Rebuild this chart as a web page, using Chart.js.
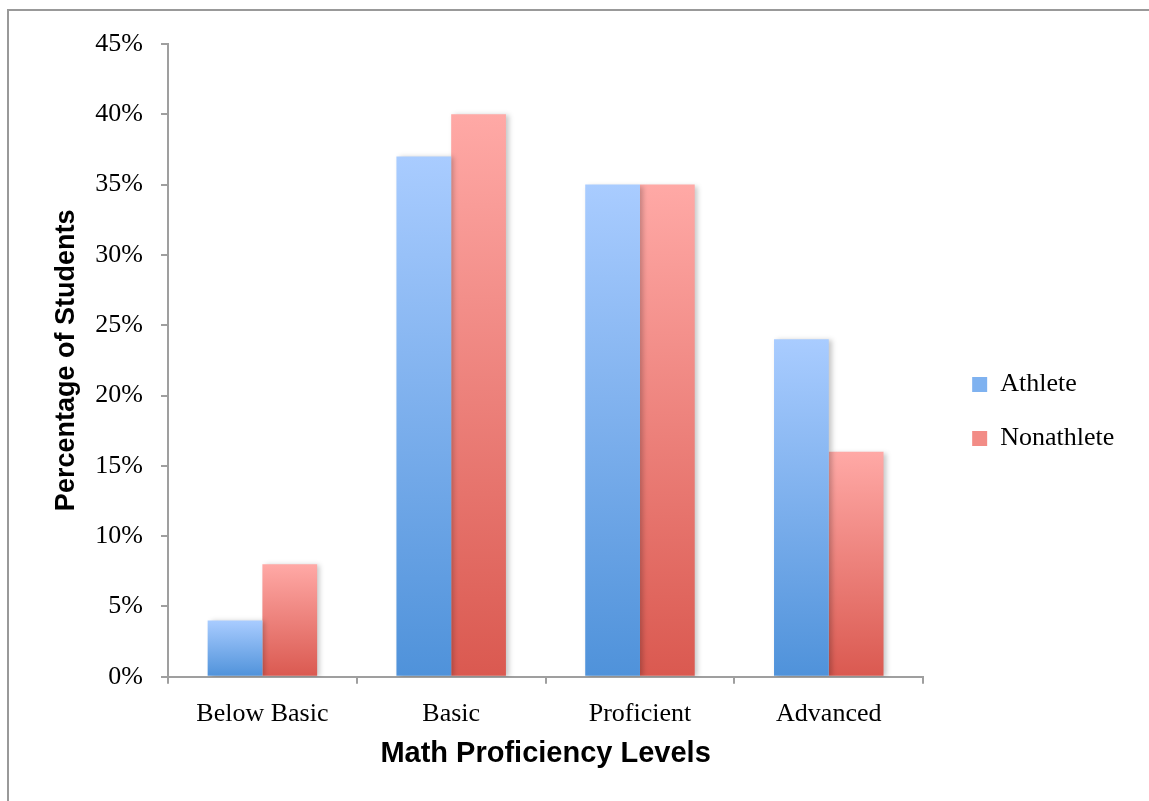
<!DOCTYPE html>
<html>
<head>
<meta charset="utf-8">
<script src="https://cdn.jsdelivr.net/npm/chart.js@4/dist/chart.umd.min.js"></script>
<style>
  html, body { margin: 0; padding: 0; background: #fff; }
  #wrap { position: relative; width: 1149px; height: 801px; overflow: hidden; }
  #frame {
    position: absolute; left: 7px; top: 9px; width: 1200px; height: 900px;
    border-left: 2px solid #999; border-top: 2px solid #999;
  }
  #box { position: absolute; left: 0; top: 0; width: 1149px; height: 801px; }
</style>
</head>
<body>
<div id="wrap">
  <div id="frame"></div>
  <div id="box"><canvas id="chart"></canvas></div>
</div>
<script>
const levels = ['Below Basic', 'Basic', 'Proficient', 'Advanced'];
const athlete = [4, 37, 35, 24];
const nonathlete = [8, 40, 35, 16];

const blueTop = '#a9ccff';
const blueBottom = '#4f92da';
const redTop = '#ffa9a6';
const redBottom = '#da5950';

function barGradient(top, bottom) {
  return (context) => {
    const chart = context.chart;
    const y = chart.scales.y;
    if (!chart.chartArea || !y || context.raw === undefined) return bottom;
    const yTop = y.getPixelForValue(context.raw);
    const yBottom = y.getPixelForValue(0);
    if (!isFinite(yTop) || !isFinite(yBottom) || yTop === yBottom) return bottom;
    const g = chart.ctx.createLinearGradient(0, yTop, 0, yBottom);
    g.addColorStop(0, top);
    g.addColorStop(1, bottom);
    return g;
  };
}

// soft drop shadow behind the bars
const barShadow = {
  id: 'barShadow',
  beforeDatasetsDraw(chart) {
    const ctx = chart.ctx;
    ctx.save();
    ctx.shadowColor = 'rgba(0,0,0,0.22)';
    ctx.shadowBlur = 5;
    ctx.shadowOffsetX = 3;
    ctx.shadowOffsetY = 1;
  },
  afterDatasetsDraw(chart) {
    chart.ctx.restore();
  },
};

const serif = "'Liberation Serif', 'Times New Roman', serif";
const sans = "'Liberation Sans', Arial, sans-serif";

new Chart(document.getElementById('chart'), {
  type: 'bar',
  data: {
    labels: levels,
    datasets: [
      {
        label: 'Athlete',
        data: athlete,
        backgroundColor: barGradient(blueTop, blueBottom),
        categoryPercentage: 0.58,
        barPercentage: 1.0,
      },
      {
        label: 'Nonathlete',
        data: nonathlete,
        backgroundColor: barGradient(redTop, redBottom),
        categoryPercentage: 0.58,
        barPercentage: 1.0,
      },
    ],
  },
  options: {
    responsive: true,
    maintainAspectRatio: false,
    animation: false,
    layout: {
      padding: { left: 50, top: 44, right: 26, bottom: 22 },
    },
    plugins: {
      tooltip: { enabled: false },
      legend: {
        position: 'right',
        labels: {
          color: '#000',
          font: { family: serif, size: 26 },
          boxWidth: 15,
          boxHeight: 15,
          padding: 28,
          generateLabels(chart) {
            const fills = ['#7fb2f0', '#f28c86'];
            return chart.data.datasets.map((ds, i) => ({
              text: ds.label,
              fillStyle: fills[i],
              strokeStyle: fills[i],
              lineWidth: 0,
              hidden: false,
              datasetIndex: i,
            }));
          },
        },
      },
    },
    scales: {
      x: {
        grid: {
          offset: true,
          drawOnChartArea: false,
          drawTicks: true,
          tickLength: 7,
          color: '#9f9f9f',
          lineWidth: 2,
        },
        border: { color: '#9f9f9f', width: 2 },
        ticks: {
          color: '#000',
          font: { family: serif, size: 26, lineHeight: 1.0 },
          padding: 17,
        },
        title: {
          display: true,
          text: 'Math Proficiency Levels',
          color: '#000',
          font: { family: sans, size: 29, weight: 'bold', lineHeight: 0.7 },
          padding: { top: 0, bottom: 15 },
        },
      },
      y: {
        min: 0,
        max: 45,
        afterFit: (scale) => { scale.width = 118; },
        grid: {
          drawOnChartArea: false,
          drawTicks: true,
          tickLength: 7,
          color: '#9f9f9f',
          lineWidth: 2,
        },
        border: { color: '#9f9f9f', width: 2 },
        ticks: {
          stepSize: 5,
          color: '#000',
          font: { family: serif, size: 26 },
          padding: 18,
          callback: (v) => v + '%',
        },
        title: {
          display: true,
          text: 'Percentage of Students',
          color: '#000',
          font: { family: sans, size: 27, weight: 'bold' },
          padding: { top: 0, bottom: 0 },
        },
      },
      // empty spacer between the plot and the legend
      gap: {
        type: 'linear',
        position: 'right',
        display: true,
        grid: { display: false },
        border: { display: false },
        ticks: { display: false },
        afterFit: (scale) => { scale.width = 21; },
      },
    },
  },
  plugins: [barShadow],
});
</script>
</body>
</html>
